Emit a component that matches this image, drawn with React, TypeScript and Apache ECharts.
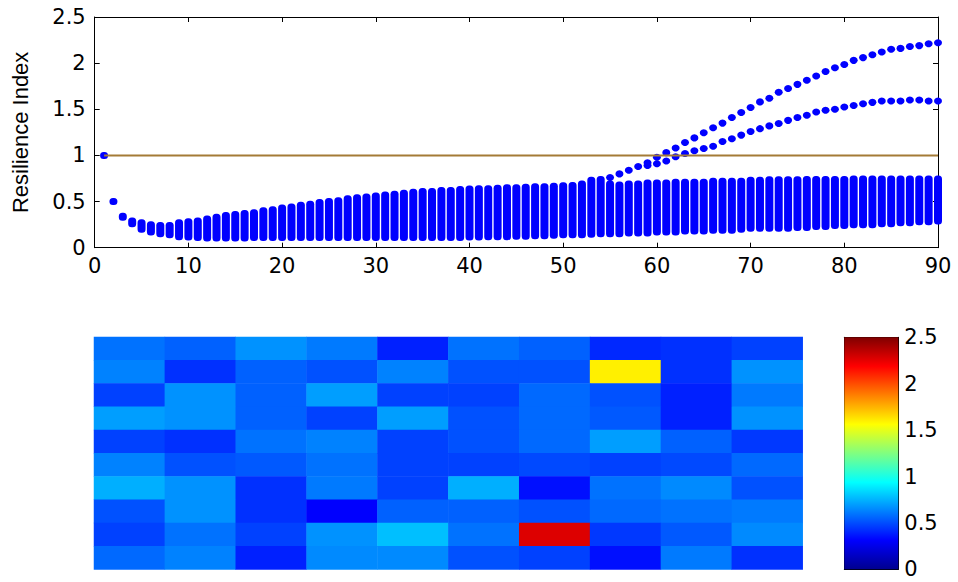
import React, { useEffect, useRef } from "react";
import * as echarts from "echarts";

// ---- top panel: resilience index per step (column ranges) ----
const steps: number[] = Array.from({ length: 90 }, (_, i) => i + 1);

const colHi: number[] = [
  1.0, 0.5, 0.34, 0.29, 0.27, 0.25, 0.24, 0.24, 0.27, 0.28,
  0.29, 0.31, 0.33, 0.35, 0.36, 0.37, 0.38, 0.4, 0.41, 0.43,
  0.44, 0.46, 0.47, 0.49, 0.5, 0.51, 0.53, 0.54, 0.55, 0.56,
  0.57, 0.58, 0.59, 0.6, 0.61, 0.61, 0.62, 0.62, 0.63, 0.635,
  0.64, 0.64, 0.645, 0.65, 0.65, 0.655, 0.66, 0.66, 0.665, 0.67,
  0.675, 0.69, 0.73, 0.74, 0.69, 0.68, 0.69, 0.69, 0.7, 0.7,
  0.7, 0.71, 0.71, 0.71, 0.71, 0.72, 0.72, 0.72, 0.72, 0.73,
  0.73, 0.735, 0.735, 0.735, 0.735, 0.74, 0.74, 0.74, 0.74, 0.74,
  0.745, 0.745, 0.745, 0.745, 0.745, 0.745, 0.745, 0.745, 0.745, 0.745,
];

const colLo: number[] = [
  1.0, 0.5, 0.33, 0.26, 0.2, 0.17, 0.15, 0.14, 0.12, 0.115,
  0.11, 0.105, 0.105, 0.105, 0.105, 0.105, 0.11, 0.11, 0.11, 0.11,
  0.11, 0.11, 0.11, 0.11, 0.11, 0.11, 0.11, 0.11, 0.11, 0.11,
  0.11, 0.11, 0.11, 0.11, 0.11, 0.11, 0.11, 0.11, 0.11, 0.115,
  0.115, 0.12, 0.12, 0.12, 0.125, 0.125, 0.13, 0.13, 0.135, 0.14,
  0.14, 0.14, 0.145, 0.15, 0.15, 0.15, 0.16, 0.16, 0.16, 0.17,
  0.17, 0.17, 0.18, 0.18, 0.18, 0.19, 0.19, 0.19, 0.2, 0.21,
  0.21, 0.21, 0.21, 0.21, 0.22, 0.22, 0.23, 0.23, 0.24, 0.24,
  0.25, 0.25, 0.25, 0.26, 0.26, 0.27, 0.27, 0.28, 0.28, 0.29,
];

// upper branch (x = 55..90)
const upperX: number[] = Array.from({ length: 36 }, (_, i) => i + 55);
const upperY: number[] = [
  0.76, 0.8, 0.84, 0.88, 0.92, 0.98, 1.03, 1.08, 1.14, 1.19,
  1.245, 1.3, 1.35, 1.41, 1.465, 1.52, 1.58, 1.62, 1.685, 1.725,
  1.77, 1.815, 1.86, 1.91, 1.95, 1.985, 2.03, 2.06, 2.09, 2.12,
  2.15, 2.16, 2.18, 2.19, 2.21, 2.22,
];

// second branch (x = 59..90)
const lowerX: number[] = Array.from({ length: 32 }, (_, i) => i + 59);
const lowerY: number[] = [
  0.89, 0.91, 0.94, 0.985, 1.02, 1.05, 1.075, 1.1, 1.15, 1.18,
  1.22, 1.26, 1.29, 1.32, 1.345, 1.38, 1.41, 1.435, 1.47, 1.49,
  1.5, 1.525, 1.54, 1.56, 1.575, 1.59, 1.59, 1.59, 1.6, 1.6,
  1.59, 1.59,
];

const refLineX: number[] = [1, 90];
const refLineY: number[] = [1, 1];

const xTicks = { min: 0, max: 90, interval: 10 };
const yTicks = { min: 0, max: 2.5, interval: 0.5 };

// ---- bottom panel: 10 x 10 heatmap (rows top -> bottom) ----
const heatCols: string[] = ["1", "2", "3", "4", "5", "6", "7", "8", "9", "10"];
const heatRows: string[] = ["1", "2", "3", "4", "5", "6", "7", "8", "9", "10"];
const heatValues: number[][] = [
  [0.59, 0.55, 0.67, 0.61, 0.39, 0.59, 0.55, 0.41, 0.43, 0.47],
  [0.63, 0.43, 0.55, 0.51, 0.63, 0.51, 0.51, 1.6, 0.43, 0.67],
  [0.47, 0.67, 0.55, 0.7, 0.47, 0.47, 0.57, 0.51, 0.39, 0.61],
  [0.7, 0.67, 0.55, 0.47, 0.7, 0.51, 0.57, 0.53, 0.39, 0.67],
  [0.47, 0.43, 0.59, 0.63, 0.47, 0.51, 0.57, 0.7, 0.55, 0.45],
  [0.63, 0.51, 0.53, 0.59, 0.47, 0.47, 0.49, 0.47, 0.49, 0.57],
  [0.74, 0.67, 0.43, 0.61, 0.47, 0.74, 0.35, 0.59, 0.65, 0.51],
  [0.51, 0.67, 0.43, 0.31, 0.55, 0.55, 0.51, 0.57, 0.59, 0.61],
  [0.47, 0.59, 0.47, 0.67, 0.78, 0.59, 2.27, 0.45, 0.53, 0.65],
  [0.57, 0.63, 0.39, 0.65, 0.65, 0.51, 0.47, 0.35, 0.61, 0.43],
];
const colorRange = { min: 0, max: 2.5, interval: 0.5 };
const jet: string[] = [
  "#00008f", "#0000ff", "#0080ff", "#00ffff", "#80ff80",
  "#ffff00", "#ff8000", "#ff0000", "#800000",
];

const LABEL_FONT = "DejaVu Sans";
const NAME_FONT = "Liberation Sans";

export default function App() {
  const ref = useRef<HTMLDivElement>(null);

  useEffect(() => {
    if (!ref.current) return;
    const chart = echarts.init(ref.current, undefined, { renderer: "svg" });

    const columnData = steps.map((x, i) => [x, colLo[i], colHi[i]]);
    const upperData = upperX.map((x, i) => [x, upperY[i]]);
    const lowerData = lowerX.map((x, i) => [x, lowerY[i]]);
    const refData = refLineX.map((x, i) => [x, refLineY[i]]);
    const heatData: number[][] = [];
    heatValues.forEach((row, r) =>
      row.forEach((v, c) => heatData.push([c, r, v]))
    );

    const labelStyle = {
      fontFamily: LABEL_FONT,
      fontSize: 21,
      color: "#000",
    };
    const black = { lineStyle: { color: "#000", width: 1 } };
    const lineBlack = { show: true, onZero: false, lineStyle: { color: "#000", width: 1 } };

    const option: any = {
      animation: false,
      backgroundColor: "#fff",
      grid: [
        { left: 94.7, top: 17, width: 843.3, height: 230.7 },
        { left: 94, top: 337, width: 708.7, height: 232.5 },
        { left: 844.3, top: 337.3, width: 54, height: 232 },
      ],
      xAxis: [
        {
          type: "value",
          gridIndex: 0,
          ...xTicks,
          axisLine: lineBlack,
          axisTick: { show: true, inside: true, length: 5, ...black },
          axisLabel: { ...labelStyle, margin: 8 },
          splitLine: { show: false },
        },
        {
          type: "value",
          gridIndex: 0,
          position: "top",
          ...xTicks,
          axisLine: lineBlack,
          axisTick: { show: true, inside: true, length: 5, ...black },
          axisLabel: { show: false },
          splitLine: { show: false },
        },
        {
          type: "category",
          gridIndex: 1,
          data: heatCols,
          show: false,
        },
        {
          type: "category",
          gridIndex: 2,
          data: ["cb"],
          axisLine: lineBlack,
          axisTick: { show: false },
          axisLabel: { show: false },
        },
        {
          type: "category",
          gridIndex: 2,
          position: "top",
          data: ["cb"],
          axisLine: lineBlack,
          axisTick: { show: false },
          axisLabel: { show: false },
        },
      ],
      yAxis: [
        {
          type: "value",
          gridIndex: 0,
          ...yTicks,
          name: "Resilience Index",
          nameLocation: "middle",
          nameGap: 63,
          nameTextStyle: { fontFamily: NAME_FONT, fontSize: 22, color: "#000" },
          axisLine: lineBlack,
          axisTick: { show: true, inside: true, length: 5, ...black },
          axisLabel: { ...labelStyle, margin: 9 },
          splitLine: { show: false },
        },
        {
          type: "value",
          gridIndex: 0,
          position: "right",
          ...yTicks,
          axisLine: lineBlack,
          axisTick: { show: true, inside: true, length: 5, ...black },
          axisLabel: { show: false },
          splitLine: { show: false },
        },
        {
          type: "category",
          gridIndex: 1,
          data: heatRows,
          inverse: true,
          show: false,
        },
        {
          type: "value",
          gridIndex: 2,
          position: "right",
          ...colorRange,
          axisLine: lineBlack,
          axisTick: { show: true, inside: true, length: 4, ...black },
          axisLabel: { ...labelStyle, margin: 6 },
          splitLine: { show: false },
        },
        {
          type: "value",
          gridIndex: 2,
          position: "left",
          ...colorRange,
          axisLine: lineBlack,
          axisTick: { show: true, inside: true, length: 4, ...black },
          axisLabel: { show: false },
          splitLine: { show: false },
        },
      ],
      visualMap: [
        {
          type: "continuous",
          show: false,
          min: colorRange.min,
          max: colorRange.max,
          seriesIndex: 4,
          dimension: 2,
          inRange: { color: jet },
        },
      ],
      series: [
        {
          type: "custom",
          xAxisIndex: 0,
          yAxisIndex: 0,
          data: columnData,
          clip: false,
          z: 3,
          renderItem: (params: any, api: any) => {
            const x = api.value(0);
            const lo = api.value(1);
            const hi = api.value(2);
            const pLo = api.coord([x, lo]);
            const pHi = api.coord([x, hi]);
            const w = 8;
            const h = 7;
            return {
              type: "rect",
              shape: {
                x: pLo[0] - w / 2,
                y: pHi[1] - h / 2,
                width: w,
                height: pLo[1] - pHi[1] + h,
                r: 3.5,
              },
              style: { fill: "#0000ff" },
            };
          },
        },
        {
          type: "scatter",
          xAxisIndex: 0,
          yAxisIndex: 0,
          data: upperData,
          symbol: "circle",
          symbolSize: [8, 7],
          itemStyle: { color: "#0000ff", opacity: 1 },
          z: 3,
        },
        {
          type: "scatter",
          xAxisIndex: 0,
          yAxisIndex: 0,
          data: lowerData,
          symbol: "circle",
          symbolSize: [8, 7],
          itemStyle: { color: "#0000ff", opacity: 1 },
          z: 3,
        },
        {
          type: "line",
          xAxisIndex: 0,
          yAxisIndex: 0,
          data: refData,
          symbol: "none",
          lineStyle: { color: "#a47b36", width: 2 },
          z: 4,
        },
        {
          type: "heatmap",
          xAxisIndex: 2,
          yAxisIndex: 2,
          data: heatData,
          itemStyle: { borderWidth: 0 },
        },
        {
          type: "bar",
          xAxisIndex: 3,
          yAxisIndex: 3,
          data: [colorRange.max],
          barWidth: "100%",
          itemStyle: {
            color: new echarts.graphic.LinearGradient(
              0,
              1,
              0,
              0,
              jet.map((c, i) => ({ offset: i / (jet.length - 1), color: c }))
            ),
          },
          z: 1,
        },
      ],
    };

    chart.setOption(option);
    return () => chart.dispose();
  }, []);

  return (
    <div
      ref={ref}
      style={{
        position: "fixed",
        left: 0,
        top: 0,
        width: 958,
        height: 582,
        background: "#fff",
      }}
    />
  );
}
